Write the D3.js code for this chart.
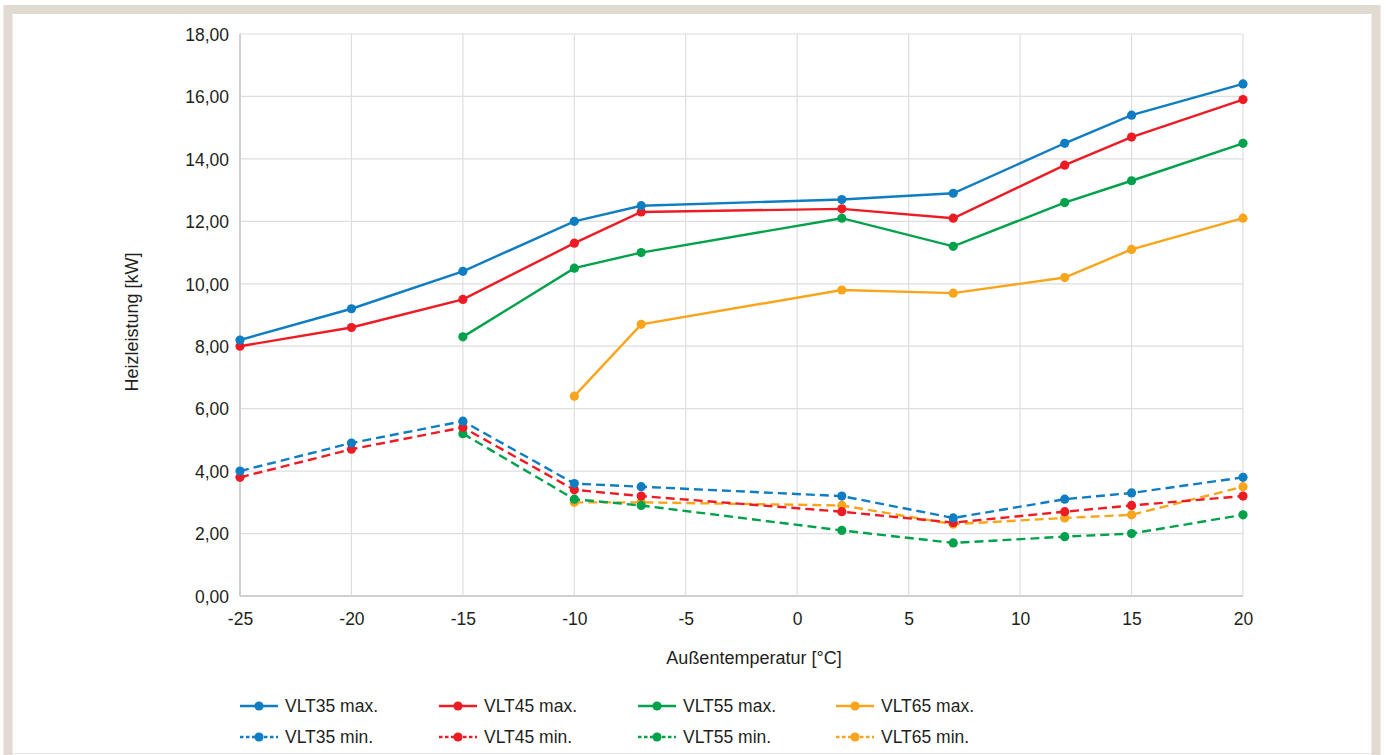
<!DOCTYPE html>
<html>
<head>
<meta charset="utf-8">
<script src="https://cdn.jsdelivr.net/npm/d3@7"></script>
<style>
  body { margin: 0; background: #fff; }
  text { font-family: "Liberation Sans", Arial, sans-serif; fill: #231f20; }
</style>
</head>
<body>
<div id="mainGraphic"></div>
<script>
let svgWidth = 1386
let svgHeight = 755

// outdoor temperature points (x)
let temps = [-25, -20, -15, -10, -7, 2, 7, 12, 15, 20]
let xTicks = [-25, -20, -15, -10, -5, 0, 5, 10, 15, 20]
let yTicks = [0, 2, 4, 6, 8, 10, 12, 14, 16, 18]

// heating output [kW], null = no value
let vlt35max = [8.2, 9.2, 10.4, 12.0, 12.5, 12.7, 12.9, 14.5, 15.4, 16.4]
let vlt45max = [8.0, 8.6, 9.5, 11.3, 12.3, 12.4, 12.1, 13.8, 14.7, 15.9]
let vlt55max = [null, null, 8.3, 10.5, 11.0, 12.1, 11.2, 12.6, 13.3, 14.5]
let vlt65max = [null, null, null, 6.4, 8.7, 9.8, 9.7, 10.2, 11.1, 12.1]
let vlt35min = [4.0, 4.9, 5.6, 3.6, 3.5, 3.2, 2.5, 3.1, 3.3, 3.8]
let vlt45min = [3.8, 4.7, 5.4, 3.4, 3.2, 2.7, 2.35, 2.7, 2.9, 3.2]
let vlt55min = [null, null, 5.2, 3.1, 2.9, 2.1, 1.7, 1.9, 2.0, 2.6]
let vlt65min = [null, null, null, 3.0, 3.0, 2.9, 2.3, 2.5, 2.6, 3.5]

let seriesNames = ["VLT35 max.", "VLT45 max.", "VLT55 max.", "VLT65 max.",
                   "VLT35 min.", "VLT45 min.", "VLT55 min.", "VLT65 min."]
let seriesValues = [vlt35max, vlt45max, vlt55max, vlt65max,
                    vlt35min, vlt45min, vlt55min, vlt65min]
let colors = ["#0f7dc2", "#ed1c24", "#00a14b", "#f9a51b"]

renderChart();

function renderChart(){
  let svg = d3.select("#mainGraphic")
    .append("svg")
      .attr("width", svgWidth)
      .attr("height", svgHeight)

  // beige frame
  svg.append("line")
    .attr("x1", 12).attr("x2", 1372).attr("y1", 753.5).attr("y2", 753.5)
    .attr("stroke", "#e6e6e6").attr("stroke-width", 1)
  svg.append("rect")
    .attr("x", 8).attr("y", 9.5)
    .attr("width", 1368).attr("height", 800)
    .attr("fill", "none")
    .attr("stroke", "#e1dad0")
    .attr("stroke-width", 9)

  let x = d3.scaleLinear().domain([-25, 20]).range([240, 1243])
  let y = d3.scaleLinear().domain([0, 18]).range([596, 34])

  let grid = svg.append("g")
  grid.selectAll(".hg")
    .data(yTicks)
    .enter()
    .append("line")
      .attr("x1", x(-25)).attr("x2", x(20))
      .attr("y1", d => y(d)).attr("y2", d => y(d))
      .attr("stroke", d => d === 0 ? "#cfcfcf" : "#dedede")
      .attr("stroke-width", d => d === 0 ? 2 : 1.2)
  grid.selectAll(".vg")
    .data(xTicks)
    .enter()
    .append("line")
      .attr("x1", d => x(d)).attr("x2", d => x(d))
      .attr("y1", y(18)).attr("y2", y(0))
      .attr("stroke", d => d === -25 ? "#cfcfcf" : "#dedede")
      .attr("stroke-width", d => d === -25 ? 2 : 1.2)

  let fmt = d => d.toFixed(2).replace(".", ",")
  svg.append("g")
    .attr("transform", `translate(${x(-25)},0)`)
    .call(d3.axisLeft(y).tickValues(yTicks).tickFormat(fmt).tickSize(0).tickPadding(11))
    .call(g => g.select(".domain").remove())
    .call(g => g.selectAll("text").style("font-size", "17.5px").attr("dy", "0.36em"))

  svg.append("g")
    .attr("transform", `translate(0,${y(0)})`)
    .call(d3.axisBottom(x).tickValues(xTicks).tickFormat(d => String(d)).tickSize(0).tickPadding(17))
    .call(g => g.select(".domain").remove())
    .call(g => g.selectAll("text").style("font-size", "17.5px"))

  svg.append("text")
    .attr("x", 754).attr("y", 664)
    .attr("text-anchor", "middle")
    .style("font-size", "18px")
    .text("Außentemperatur [°C]")

  svg.append("text")
    .attr("transform", "translate(138,322) rotate(-90)")
    .attr("text-anchor", "middle")
    .style("font-size", "18px")
    .text("Heizleistung [kW]")

  let line = d3.line()
    .x(d => x(d.t))
    .y(d => y(d.v))

  let series = seriesValues.map((vals, i) => ({
    name: seriesNames[i],
    color: colors[i % 4],
    dashed: i >= 4,
    points: temps.map((t, j) => ({ t: t, v: vals[j] })).filter(p => p.v !== null)
  }))

  // draw min series first, then max
  let drawOrder = [7, 6, 5, 4, 3, 2, 1, 0]
  drawOrder.forEach(i => {
    let s = series[i]
    let g = svg.append("g")
    g.append("path")
      .datum(s.points)
      .attr("d", line)
      .attr("fill", "none")
      .attr("stroke", s.color)
      .attr("stroke-width", 2.4)
      .attr("stroke-dasharray", s.dashed ? "9,5" : null)
    g.selectAll("circle")
      .data(s.points)
      .enter()
      .append("circle")
        .attr("cx", d => x(d.t))
        .attr("cy", d => y(d.v))
        .attr("r", 4.6)
        .attr("fill", s.color)
  })

  // legend
  let legendX = [240, 439, 638, 836]
  let legendY = [706, 737]
  let legend = svg.append("g")
  series.forEach((s, i) => {
    let lx = legendX[i % 4]
    let ly = legendY[i < 4 ? 0 : 1]
    legend.append("line")
      .attr("x1", lx).attr("x2", lx + 38)
      .attr("y1", ly).attr("y2", ly)
      .attr("stroke", s.color)
      .attr("stroke-width", 2.6)
      .attr("stroke-dasharray", s.dashed ? "3.5,2.5" : null)
    legend.append("circle")
      .attr("cx", lx + 19).attr("cy", ly)
      .attr("r", 4.6)
      .attr("fill", s.color)
    legend.append("text")
      .attr("x", lx + 45).attr("y", ly)
      .attr("dy", "0.36em")
      .style("font-size", "17.5px")
      .text(s.name)
  })
}
</script>
</body>
</html>
